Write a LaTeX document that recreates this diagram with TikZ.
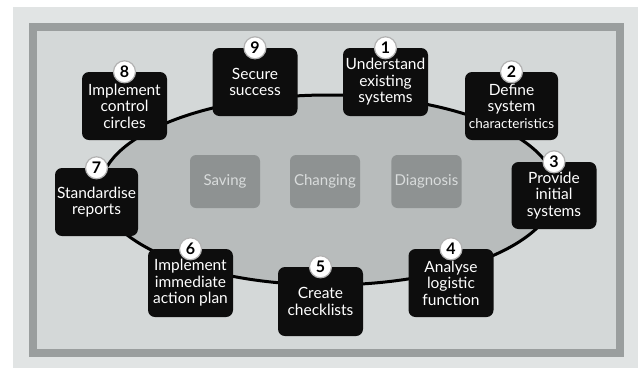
\documentclass[tikz,border=0pt]{standalone}
\usepackage{fontspec}
\setmainfont{Lato}

\definecolor{fondo}{HTML}{E1E4E4}
\definecolor{marco}{HTML}{9A9E9E}
\definecolor{interior}{HTML}{D4D8D8}
\definecolor{elipse}{HTML}{B8BCBC}
\definecolor{caja}{HTML}{8E9292}
\definecolor{textocaja}{HTML}{D9DCDC}

\tikzset{
  paso/.style={fill=black!95, rounded corners=7pt, minimum width=85pt,
    minimum height=68pt, text=white, align=center, inner sep=1pt,
    font=\fontsize{15.5}{16.5}\selectfont},
  numero/.style={circle, fill=white, draw=gray!60, line width=1.2pt,
    minimum size=22pt, inner sep=0pt, font=\fontsize{16}{16}\selectfont\bfseries},
  centro/.style={fill=caja, rounded corners=6pt, minimum width=70pt,
    minimum height=53pt, text=textocaja, font=\fontsize{15}{17}\selectfont}
}

\begin{document}
\begin{tikzpicture}[x=1pt, y=-1pt]
  \useasboundingbox (0,0) rectangle (638,368);

    % Fondo y marco
    \fill[white] (0,0) rectangle (638,368);
    \fill[fondo] (13,7) rectangle (638,368);
    \fill[interior] (33,27) rectangle (620,353);
    \draw[marco, line width=8pt] (33,27) rectangle (620,353);

    % Elipse del ciclo
    \coordinate (ctr) at (328,190);
    \draw[line width=3pt, fill=elipse] (ctr) ellipse (228pt and 95pt);

    % Bloques centrales
    \node[centro] (ahorro) at (225,181.5) {Saving};
    \node[centro] (cambio) at (325,181.5) {Changing};
    \node[centro] (diag) at (426.5,181.5) {Diagnosis};

    % Pasos
    \node[paso] (p1) at (385.5,82) {Understand\\existing\\systems};
    \node[paso, minimum width=93pt] (p2) at (511.5,106)
      {Define\\system\\{\fontsize{13.5}{14}\selectfont characteristics}};
    \node[paso, minimum height=67pt] (p3) at (554,195.5) {Provide\\initial\\systems};
    \node[paso] (p4) at (451,283) {Analyse\\logistic\\function};
    \node[paso, minimum height=69pt] (p5) at (320.5,301.5) {Create\\checklists};
    \node[paso] (p6) at (190.5,283) {Implement\\immediate\\action plan};
    \node[paso, minimum width=83pt] (p7) at (96.5,202) {Standardise\\reports};
    \node[paso] (p8) at (124.5,106) {Implement\\control\\circles};
    \node[paso] (p9) at (255,82) {Secure\\success};

    % Numeros
    \foreach \i in {1,...,9}
      \node[numero] (n\i) at (p\i.north) {\i};

  \end{tikzpicture}
\end{document}
